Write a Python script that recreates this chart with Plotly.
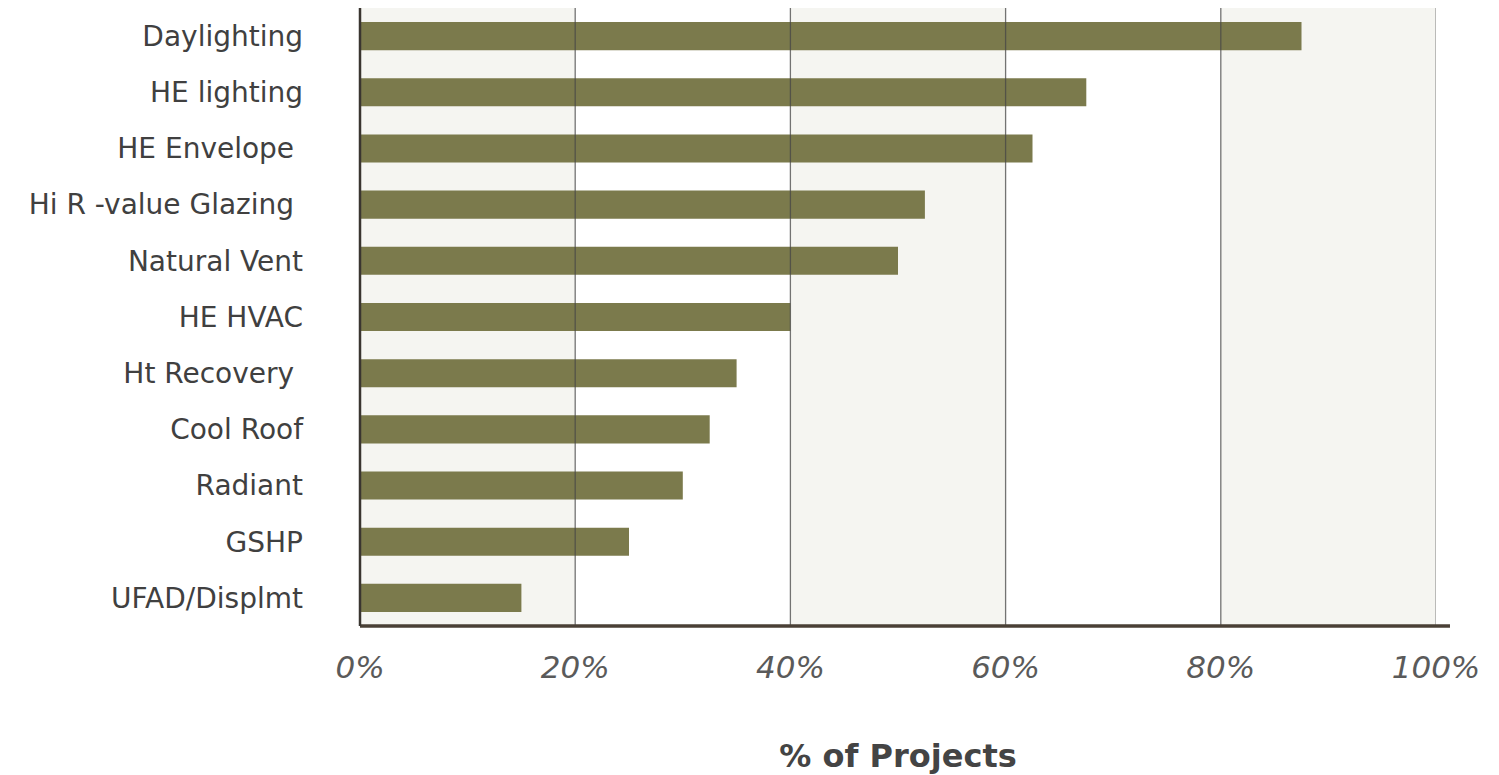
import plotly.graph_objects as go

categories = ["Daylighting", "HE lighting", "HE Envelope ", "Hi R -value Glazing ",
              "Natural Vent", "HE HVAC", "Ht Recovery ", "Cool Roof", "Radiant",
              "GSHP", "UFAD/Displmt"]
values = [87.5, 67.5, 62.5, 52.5, 50, 40, 35, 32.5, 30, 25, 15]
tick_vals = [0, 20, 40, 60, 80, 100]
tick_text = ["0%", "20%", "40%", "60%", "80%", "100%"]

fig = go.Figure(go.Bar(
    x=values, y=categories, orientation="h",
    marker=dict(color="#7b7a4c", line=dict(width=0)),
    width=0.5,
))

shapes = []
# alternating background bands
for i in range(0, len(tick_vals) - 1):
    if i % 2 == 0:
        shapes.append(dict(type="rect", xref="x", yref="paper",
                           x0=tick_vals[i], x1=tick_vals[i + 1], y0=0, y1=1,
                           fillcolor="#f5f5f1", line=dict(width=0), layer="below"))
# vertical gridlines above bars
for v in tick_vals[1:]:
    shapes.append(dict(type="line", xref="x", yref="paper", x0=v, x1=v, y0=0, y1=1,
                       line=dict(color="rgba(70,70,70,0.75)" if v < 100 else "#9a9a9a", width=1.3),
                       layer="above"))
# axis lines
shapes.append(dict(type="line", xref="paper", yref="paper", x0=0, x1=1.013, y0=0, y1=0,
                   line=dict(color="#4a4036", width=3.5), layer="above"))
shapes.append(dict(type="line", xref="paper", yref="paper", x0=0, x1=0, y0=0, y1=1,
                   line=dict(color="#3a3530", width=2.5), layer="above"))

fig.update_layout(
    width=1499, height=775,
    margin=dict(l=352, r=71, t=0, b=157),
    paper_bgcolor="white", plot_bgcolor="white",
    showlegend=False,
    shapes=shapes,
    xaxis=dict(range=[0, 100], tickvals=tick_vals, ticktext=tick_text,
               showgrid=False, zeroline=False, showline=False,
               ticks="", ticklabelstandoff=20,
               tickfont=dict(family="DejaVu Sans", size=31, color="#5a5a5a", style="italic"),
               title=dict(text="<b>% of Projects</b>", standoff=60,
                          font=dict(family="DejaVu Sans", size=32, color="#444444"))),
    yaxis=dict(autorange="reversed", showgrid=False, zeroline=False, showline=False,
               ticks="", ticklabelstandoff=56,
               tickfont=dict(family="DejaVu Sans", size=28, color="#404040")),
)

fig.write_html("out.html")
